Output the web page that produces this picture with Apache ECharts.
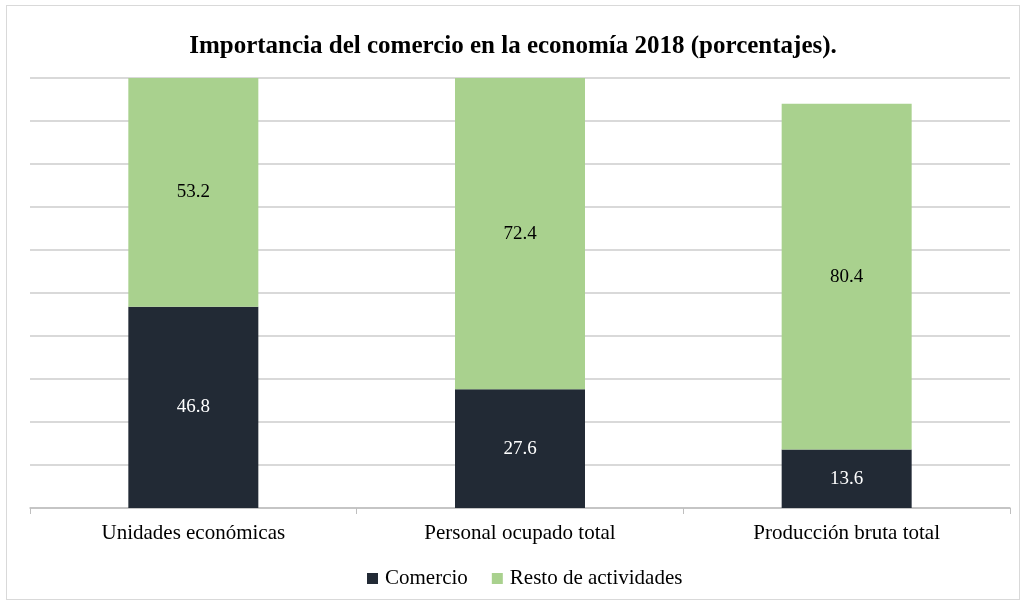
<!DOCTYPE html>
<html>
<head>
<meta charset="utf-8">
<script src="https://cdn.jsdelivr.net/npm/echarts@6/dist/echarts.min.js"></script>
<style>
html,body{margin:0;padding:0;background:#fff;}
#wrap{position:absolute;left:6px;top:5px;width:1014px;height:595px;border:1px solid #d9d9d9;box-sizing:border-box;}
#c{position:absolute;left:0;top:0;width:1026px;height:605px;}
</style>
</head>
<body>
<div id="wrap"></div>
<div id="c"></div>
<script>
var categories = ['Unidades económicas', 'Personal ocupado total', 'Producción bruta total'];
var comercio = [46.8, 27.6, 13.6];
var resto = [53.2, 72.4, 80.4];
var seriesNames = ['Comercio', 'Resto de actividades'];
var titleText = 'Importancia del comercio en la economía 2018 (porcentajes).';

var chart = echarts.init(document.getElementById('c'), null, {renderer: 'canvas'});
var font = 'Liberation Serif';
chart.setOption({
  animation: false,
  backgroundColor: 'transparent',
  title: {
    text: titleText,
    left: 'center',
    top: 29,
    textStyle: {fontFamily: font, fontSize: 25, fontWeight: 'bold', color: '#000'}
  },
  legend: {
    data: seriesNames,
    bottom: 11,
    left: 362,
    itemWidth: 11,
    itemHeight: 11,
    itemGap: 24,
    icon: 'rect',
    textStyle: {fontFamily: font, fontSize: 21, color: '#000', padding: [0,0,0,2]}
  },
  grid: {left: 30, right: 16, top: 78, bottom: 97, containLabel: false},
  xAxis: {
    type: 'category',
    data: categories,
    axisLine: {lineStyle: {color: '#bfbfbf', width: 1.5}},
    axisTick: {show: true, length: 6, lineStyle: {color: '#bfbfbf'}},
    axisLabel: {fontFamily: font, fontSize: 21, color: '#000', margin: 15}
  },
  yAxis: {
    type: 'value',
    min: 0,
    max: 100,
    interval: 10,
    axisLabel: {show: false},
    axisLine: {show: false},
    axisTick: {show: false},
    splitLine: {lineStyle: {color: '#d9d9d9', width: 2}}
  },
  series: [
    {
      name: seriesNames[0],
      type: 'bar',
      stack: 'total',
      data: comercio,
      barWidth: 130,
      itemStyle: {color: '#222a35'},
      label: {show: true, position: 'inside', fontFamily: font, fontSize: 19, color: '#fff', formatter: function(p){return p.value.toFixed(1);}}
    },
    {
      name: seriesNames[1],
      type: 'bar',
      stack: 'total',
      data: resto,
      barWidth: 130,
      itemStyle: {color: '#a9d18e'},
      label: {show: true, position: 'inside', fontFamily: font, fontSize: 19, color: '#000', formatter: function(p){return p.value.toFixed(1);}}
    }
  ]
});
</script>
</body>
</html>
